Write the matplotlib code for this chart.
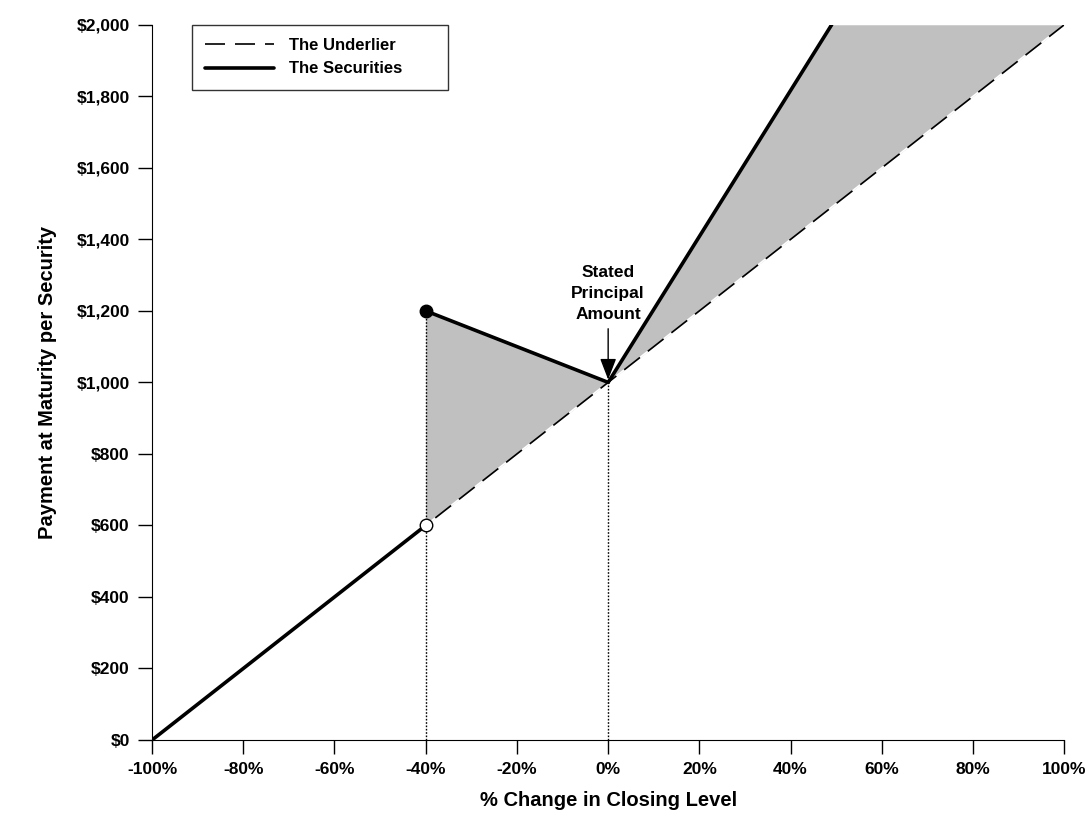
import numpy as np
import matplotlib.pyplot as plt
from matplotlib.ticker import FuncFormatter

plt.rcParams["font.family"] = ["Liberation Sans", "DejaVu Sans"]
plt.rcParams["font.weight"] = "bold"

# --- data ---
underlier_x = [-100, 100]
underlier_y = [0, 2000]

sec_low_x = [-100, -40]
sec_low_y = [0, 600]
sec_mid_x = [-40, 0]
sec_mid_y = [1200, 1000]
sec_up_x = [0, 49]
sec_up_y = [1000, 2000]

x_ticks = [-100, -80, -60, -40, -20, 0, 20, 40, 60, 80, 100]
y_ticks = [0, 200, 400, 600, 800, 1000, 1200, 1400, 1600, 1800, 2000]

fig = plt.figure(figsize=(10.86, 8.25), dpi=100)
ax = fig.add_axes([0.140, 0.103, 0.840, 0.867])

# shaded areas
xm = np.array(sec_mid_x)
ax.fill_between(xm, np.interp(xm, underlier_x, underlier_y), sec_mid_y,
                color="#c0c0c0", lw=0, zorder=1)
xu = np.array([0, 49, 100])
top = np.minimum(np.interp(xu, sec_up_x + [100], sec_up_y + [2000]), 2000)
ax.fill_between(xu, np.interp(xu, underlier_x, underlier_y), top,
                color="#c0c0c0", lw=0, zorder=1)

# reference dotted lines
ax.plot([-40, -40], [0, 1200], color="black", lw=1, ls=(0, (1.2, 1.2)), zorder=2)
ax.plot([0, 0], [0, 1000], color="black", lw=1, ls=(0, (1.2, 1.2)), zorder=2)

ax.plot(underlier_x, underlier_y, color="black", lw=1.2, ls=(0, (12, 6)),
        gapcolor="white", label="The Underlier", zorder=3)
ax.plot(sec_low_x, sec_low_y, color="black", lw=2.6, solid_capstyle="round",
        label="The Securities", zorder=4)
ax.plot(sec_mid_x, sec_mid_y, color="black", lw=2.6, solid_capstyle="round", zorder=4)
ax.plot(sec_up_x, sec_up_y, color="black", lw=2.6, solid_capstyle="round", zorder=4)

ax.plot([-40], [1200], "o", ms=9, mfc="black", mec="black", zorder=5)
ax.plot([-40], [600], "o", ms=9, mfc="white", mec="black", mew=1, zorder=5)

ax.text(0, 1248, "Stated\nPrincipal\nAmount", ha="center", va="center",
        fontsize=12.5, fontweight="bold", linespacing=1.5)
ax.annotate("", xy=(0, 1000), xytext=(0, 1150),
            arrowprops=dict(arrowstyle="-|>,head_length=1.3,head_width=0.5",
                            color="black", lw=1, shrinkA=0, shrinkB=2))

ax.set_xlim(-100, 100)
ax.set_ylim(0, 2000)
ax.set_xticks(x_ticks)
ax.set_yticks(y_ticks)
ax.xaxis.set_major_formatter(FuncFormatter(lambda v, p: f"{v:.0f}%"))
ax.yaxis.set_major_formatter(FuncFormatter(lambda v, p: f"${v:,.0f}"))
ax.tick_params(direction="out", length=10, width=1, labelsize=12.5, pad=6)
for lab in ax.get_xticklabels() + ax.get_yticklabels():
    lab.set_fontweight("bold")
ax.spines["top"].set_visible(False)
ax.spines["right"].set_visible(False)
ax.set_xlabel("% Change in Closing Level", fontsize=14.5, fontweight="bold", labelpad=10)
ax.set_ylabel("Payment at Maturity per Security", fontsize=14.5, fontweight="bold", labelpad=14)

leg = ax.legend(loc="upper left", bbox_to_anchor=(0.0439, 0.5, 0.2807, 0.5),
                mode="expand", borderaxespad=0, frameon=True,
                fancybox=False, edgecolor="black", fontsize=12, handlelength=4.1,
                borderpad=0.8, labelspacing=0.5, handletextpad=0.9)
leg.get_frame().set_linewidth(1)
for t in leg.get_texts():
    t.set_fontweight("bold")

fig.savefig("out.png", dpi=100)
